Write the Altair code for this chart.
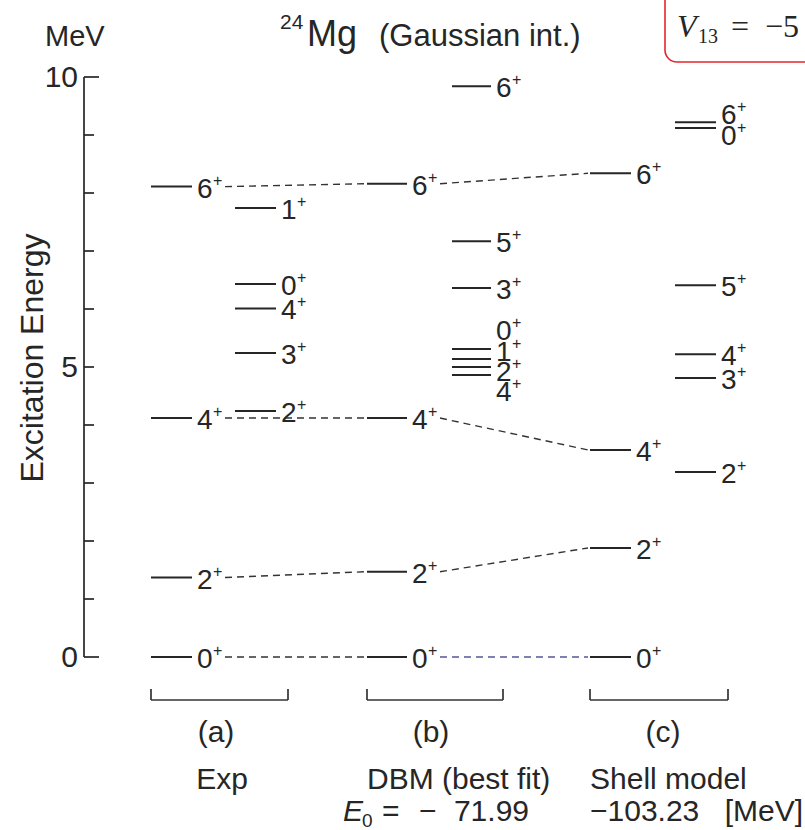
import altair as alt
import pandas as pd

# ---- level data: spin J (all positive parity) and excitation energy in MeV ----
exp_main_J = ["0", "2", "4", "6"]
exp_main_E = [0.0, 1.37, 4.12, 8.11]
exp_side_J = ["2", "3", "4", "0", "1"]
exp_side_E = [4.24, 5.24, 6.01, 6.43, 7.74]

dbm_main_J = ["0", "2", "4", "6"]
dbm_main_E = [0.0, 1.47, 4.12, 8.16]
dbm_side_J = ["4", "2", "1", "0", "3", "5", "6"]
dbm_side_E = [4.86, 5.00, 5.14, 5.31, 6.36, 7.17, 9.84]

sm_main_J = ["0", "2", "4", "6"]
sm_main_E = [0.0, 1.88, 3.57, 8.34]
sm_side_J = ["2", "3", "4", "5", "0", "6"]
sm_side_E = [3.19, 4.81, 5.22, 6.41, 9.12, 9.22]

axis_ticks = list(range(0, 11))
axis_labels = [0, 5, 10]

# ---- layout ----
W, H = 805, 830
Y0_PX = 657          # pixel row of E = 0
PX_PER_MEV = 58.0
AXIS_X = 84

COLS = {
    "exp_main": (151, 192), "exp_side": (235, 276),
    "dbm_main": (367, 407), "dbm_side": (452, 491),
    "sm_main": (590, 631), "sm_side": (675, 716),
}
# vertical nudges (px, downward) of spin labels relative to their level
LABEL_NUDGE = {
    ("dbm_side", "4"): 18, ("dbm_side", "2"): 6,
    ("dbm_side", "1"): -6, ("dbm_side", "0"): -17,
    ("sm_side", "0"): 9, ("sm_side", "6"): -6,
}
DEFAULT_NUDGE = 3

FONT = "Liberation Sans"
INK = "#262626"
LEVEL_FONT = 28

sets = {
    "exp_main": (exp_main_J, exp_main_E), "exp_side": (exp_side_J, exp_side_E),
    "dbm_main": (dbm_main_J, dbm_main_E), "dbm_side": (dbm_side_J, dbm_side_E),
    "sm_main": (sm_main_J, sm_main_E), "sm_side": (sm_side_J, sm_side_E),
}
rows = []
for col, (Js, Es) in sets.items():
    x0, x1 = COLS[col]
    for j, e in zip(Js, Es):
        nudge = LABEL_NUDGE.get((col, j), DEFAULT_NUDGE)
        rows.append(dict(col=col, J=j, E=e, x0=x0, x1=x1,
                         LE=e - nudge / PX_PER_MEV))
levels = pd.DataFrame(rows)


# dashed links between corresponding yrast levels
def energy(col, j):
    Js, Es = sets[col]
    return Es[Js.index(j)]


links = []
for j in ["0", "2", "4", "6"]:
    for a, b in [("exp_main", "dbm_main"), ("dbm_main", "sm_main")]:
        links.append(dict(xa=COLS[a][1] + 33, xb=COLS[b][0] - 2,
                          Ea=energy(a, j), Eb=energy(b, j),
                          tint="blue" if (j == "0" and a == "dbm_main") else "ink"))
links = pd.DataFrame(links)

xs = alt.Scale(domain=[0, W], range=[0, W], nice=False, zero=False)
ys = alt.Scale(domain=[(Y0_PX - H) / PX_PER_MEV, Y0_PX / PX_PER_MEV], nice=False, zero=False)


def X(f):
    return alt.X(f, scale=xs, axis=None)


def Y(f):
    return alt.Y(f, scale=ys, axis=None)


# energy axis
axis_df = pd.DataFrame({"v": axis_ticks, "x": AXIS_X,
                        "xt": [AXIS_X + (15 if v in (0, 10) else 10) for v in axis_ticks]})
axis_line = alt.Chart(pd.DataFrame({"lo": [0], "hi": [10], "x": [AXIS_X]})).mark_rule(
    color=INK, strokeWidth=1.7).encode(x=X("x:Q"), y=Y("lo:Q"), y2="hi:Q")
axis_tick = alt.Chart(axis_df).mark_rule(color=INK, strokeWidth=1.7).encode(
    x=X("x:Q"), x2="xt:Q", y=Y("v:Q"))
axis_text = alt.Chart(pd.DataFrame({"v": axis_labels, "x": AXIS_X})).mark_text(
    align="right", baseline="middle", dx=-6, dy=1, fontSize=30, font=FONT, color=INK
).encode(x=X("x:Q"), y=Y("v:Q"), text="v:Q")

# levels and their spin labels
lvl = alt.Chart(levels).mark_rule(color=INK, strokeWidth=2).encode(
    x=X("x0:Q"), x2="x1:Q", y=Y("E:Q"))
lab = alt.Chart(levels).mark_text(
    align="left", baseline="middle", dx=5, fontSize=LEVEL_FONT, font=FONT, color=INK
).encode(x=X("x1:Q"), y=Y("LE:Q"), text="J:N")
plus = alt.Chart(levels).mark_text(
    align="left", baseline="middle", dx=21, dy=-9, fontSize=16, font=FONT, color=INK, text="+"
).encode(x=X("x1:Q"), y=Y("LE:Q"))

link = alt.Chart(links).mark_rule(strokeWidth=1.4, strokeDash=[7, 5]).encode(
    x=X("xa:Q"), x2="xb:Q", y=Y("Ea:Q"), y2="Eb:Q",
    color=alt.Color("tint:N", scale=alt.Scale(domain=["ink", "blue"], range=["#333333", "#55559a"]),
                    legend=None))

# brackets under each column group
groups = [("exp_main", "exp_side"), ("dbm_main", "dbm_side"), ("sm_main", "sm_side")]
brk = pd.DataFrame([dict(l=COLS[a][0], r=COLS[b][1] + 12) for a, b in groups])
brk["top"] = (Y0_PX - 689) / PX_PER_MEV
brk["bot"] = (Y0_PX - 700) / PX_PER_MEV
brk_h = alt.Chart(brk).mark_rule(color="#333333", strokeWidth=1.7).encode(
    x=X("l:Q"), x2="r:Q", y=Y("bot:Q"))
brk_l = alt.Chart(brk).mark_rule(color="#333333", strokeWidth=1.7).encode(
    x=X("l:Q"), y=Y("top:Q"), y2="bot:Q")
brk_r = alt.Chart(brk).mark_rule(color="#333333", strokeWidth=1.7).encode(
    x=X("r:Q"), y=Y("top:Q"), y2="bot:Q")


def txt(s, x, y, size=30, align="left", family=FONT, style="normal", color=INK):
    return alt.Chart(pd.DataFrame({"t": [s]})).mark_text(
        align=align, baseline="alphabetic", fontSize=size, font=family, fontStyle=style, color=color
    ).encode(x=alt.value(x), y=alt.value(y), text="t:N")


texts = [
    txt("MeV", 45, 46, 29),
    txt("24", 280, 29, 21),
    txt("Mg", 307, 46, 36),
    txt("(Gaussian int.)", 379, 46, 31),
    txt("(a)", 216, 742, 30, "center"),
    txt("(b)", 431, 742, 30, "center"),
    txt("(c)", 663, 742, 30, "center"),
    txt("Exp", 222, 789, 30, "center"),
    txt("DBM (best fit)", 367, 789, 30),
    txt("Shell model", 590, 789, 30),
    txt("E", 343, 821, 30, style="italic"),
    txt("0", 362, 827, 19),
    txt("=", 382, 821, 30),
    txt("\u2212", 419, 821, 30),
    txt("71.99", 529, 821, 30, "right"),
    txt("\u2212103.23", 590, 821, 30),
    txt("[MeV]", 803, 821, 30, "right"),
    txt("V", 677, 37, 32, family="Liberation Serif", style="italic"),
    txt("13", 698, 43, 20, family="Liberation Serif"),
    txt("=", 731, 37, 32, family="Liberation Serif"),
    txt("\u22125", 765, 37, 32, family="Liberation Serif"),
]

ytitle = alt.Chart(pd.DataFrame({"t": ["Excitation Energy"]})).mark_text(
    angle=270, align="center", baseline="middle", fontSize=32, font=FONT, color=INK
).encode(x=alt.value(33), y=alt.value(358), text="t:N")

box = alt.Chart(pd.DataFrame({"a": [0]})).mark_rect(
    cornerRadius=12, fillOpacity=0, stroke="#e3262d", strokeWidth=1.6
).encode(x=alt.value(665), x2=alt.value(860), y=alt.value(-20), y2=alt.value(62))

chart = alt.layer(
    box, link, axis_line, axis_tick, axis_text, lvl, lab, plus,
    brk_h, brk_l, brk_r, ytitle, *texts
).properties(
    width=W, height=H, padding=0, autosize=alt.AutoSizeParams(type="none"),
    background="white"
).configure_view(stroke=None)

chart.save("out.html", embed_options={"renderer": "svg", "actions": False})
